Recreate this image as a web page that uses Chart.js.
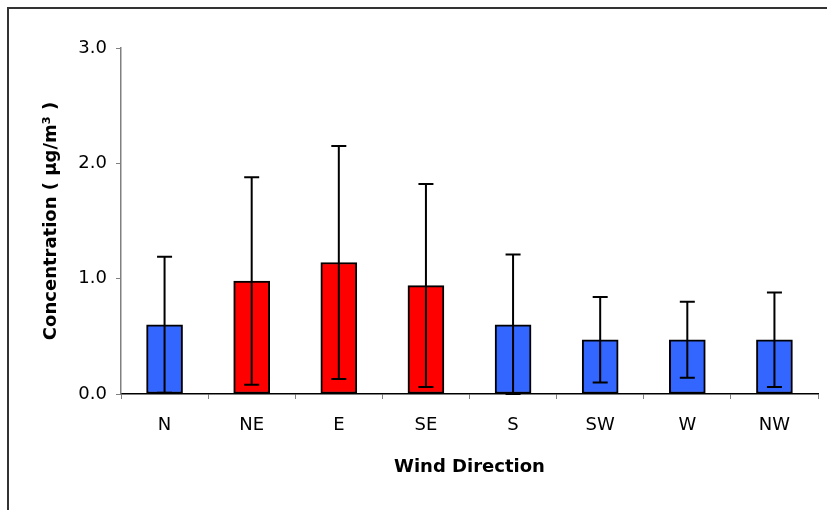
<!DOCTYPE html>
<html>
<head>
<meta charset="utf-8">
<script src="https://cdn.jsdelivr.net/npm/chart.js@4.4.0/dist/chart.umd.min.js"></script>
<style>
    html, body { margin: 0; padding: 0; background: #fff; }
    #wrap { position: relative; width: 827px; height: 510px; overflow: hidden; }
    #frame {
        position: absolute; left: 7px; top: 7px; width: 900px; height: 600px;
        border-left: 2px solid #333; border-top: 2px solid #333;
    }
    #windChart { position: absolute; left: 0; top: 0; }
</style>
</head>
<body>
<div id="wrap">
    <div id="frame"></div>
    <canvas id="windChart" width="827" height="510"></canvas>
</div>
<script>
// Mean concentration by wind direction, with standard deviation
const directions = ['N', 'NE', 'E', 'SE', 'S', 'SW', 'W', 'NW'];
const meanValues = [0.60, 0.98, 1.14, 0.94, 0.60, 0.47, 0.47, 0.47];
const stdDevs = [0.59, 0.90, 1.01, 0.88, 0.61, 0.37, 0.33, 0.41];
const barColors = ['#3366FF', '#FF0000', '#FF0000', '#FF0000', '#3366FF', '#3366FF', '#3366FF', '#3366FF'];
const yTicks = [0, 1, 2, 3];

// Error bars drawn from each bar's position and the y scale
const errorBarPlugin = {
    id: 'errorBars',
    afterDatasetsDraw(chart) {
        const ctx = chart.ctx;
        const yScale = chart.scales.y;
        const meta = chart.getDatasetMeta(0);
        ctx.save();
        ctx.strokeStyle = '#000';
        ctx.lineWidth = 2;
        meta.data.forEach((bar, i) => {
            const hi = yScale.getPixelForValue(meanValues[i] + stdDevs[i]);
            const lo = yScale.getPixelForValue(Math.max(meanValues[i] - stdDevs[i], 0));
            const cap = 7.5;
            ctx.beginPath();
            ctx.moveTo(bar.x, hi);
            ctx.lineTo(bar.x, lo);
            ctx.moveTo(bar.x - cap, hi);
            ctx.lineTo(bar.x + cap, hi);
            ctx.moveTo(bar.x - cap, lo);
            ctx.lineTo(bar.x + cap, lo);
            ctx.stroke();
        });
        ctx.restore();
    }
};

new Chart(document.getElementById('windChart'), {
    type: 'bar',
    data: {
        labels: directions,
        datasets: [{
            data: meanValues,
            backgroundColor: barColors,
            borderColor: '#000',
            borderWidth: 2,
            borderSkipped: false,
            barThickness: 36
        }]
    },
    options: {
        responsive: false,
        animation: false,
        layout: {
            padding: { left: 0, top: 48, right: 9, bottom: 0 }
        },
        plugins: {
            legend: { display: false },
            tooltip: { enabled: false }
        },
        scales: {
            x: {
                afterFit: function (scale) { scale.height = 116; },
                border: { color: '#000', width: 1.5 },
                grid: {
                    drawOnChartArea: false,
                    color: '#808080',
                    tickLength: 5,
                    offset: true
                },
                ticks: {
                    color: '#000',
                    padding: 16,
                    font: { family: 'DejaVu Sans', size: 18 }
                },
                title: {
                    display: true,
                    text: 'Wind Direction',
                    color: '#000',
                    padding: { top: 0, bottom: 32 },
                    font: { family: 'DejaVu Sans', size: 18, weight: 'bold' }
                }
            },
            y: {
                min: 0,
                max: 3,
                afterFit: function (scale) { scale.width = 121; },
                afterBuildTicks: function (scale) {
                    scale.ticks = yTicks.map(v => ({ value: v }));
                },
                border: { color: '#808080', width: 1.5 },
                grid: {
                    drawOnChartArea: false,
                    color: '#808080',
                    tickLength: 5
                },
                ticks: {
                    color: '#000',
                    padding: 9,
                    font: { family: 'DejaVu Sans', size: 18 },
                    callback: v => v.toFixed(1)
                },
                title: {
                    display: true,
                    text: 'Concentration ( µg/m³ )',
                    color: '#000',
                    padding: { top: 41, bottom: 0 },
                    font: { family: 'DejaVu Sans', size: 18, weight: 'bold' }
                }
            }
        }
    },
    plugins: [errorBarPlugin]
});
</script>
</body>
</html>
